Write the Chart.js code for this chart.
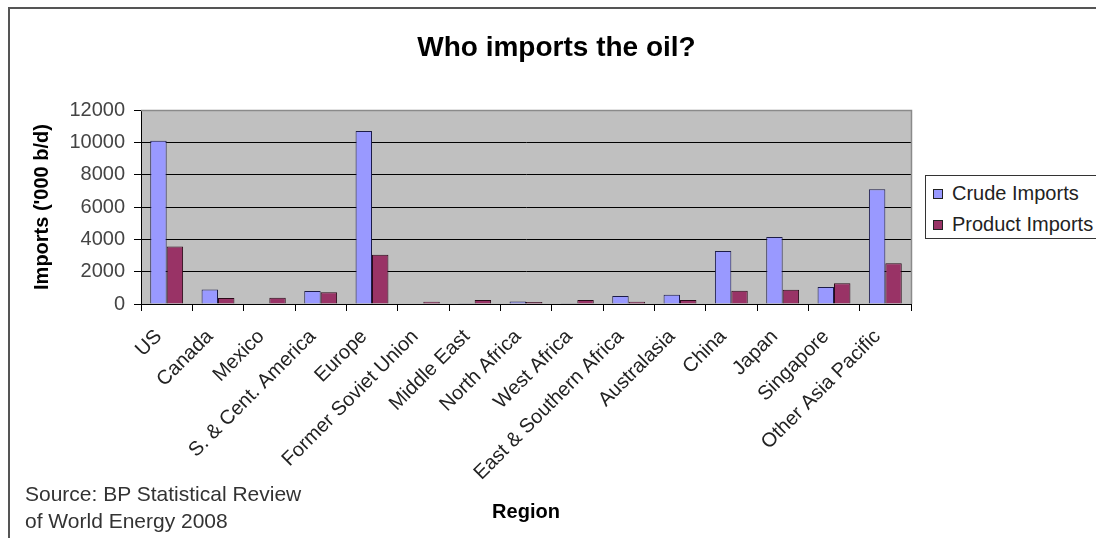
<!DOCTYPE html>
<html>
<head>
<meta charset="utf-8">
<title>Who imports the oil?</title>
<script src="https://cdn.jsdelivr.net/npm/chart.js@4.4.4/dist/chart.umd.min.js"></script>
<style>
    html, body {
        margin: 0;
        padding: 0;
        background: #fff;
        overflow: hidden;
    }

    #wrap {
        position: relative;
        width: 1096px;
        height: 538px;
        overflow: hidden;
        font-family: Arial, "Liberation Sans", sans-serif;
    }

    #frame {
        position: absolute;
        left: 8px;
        top: 7px;
        width: 1200px;
        height: 700px;
        border: 2px solid #555;
    }

    #chart {
        position: absolute;
        left: 0;
        top: 0;
    }

    #title {
        position: absolute;
        left: 0;
        width: 1113px;
        top: 33px;
        text-align: center;
        font-size: 28px;
        line-height: 28px;
        font-weight: bold;
        color: #000;
    }

    #source {
        position: absolute;
        left: 25px;
        top: 480px;
        font-size: 21px;
        line-height: 27px;
        color: #333;
    }

    #legend {
        position: absolute;
        left: 925px;
        top: 175px;
        width: 220px;
        height: 62px;
        border: 1px solid #333;
        background: #fff;
    }

    .item {
        position: absolute;
        left: 7px;
        height: 24px;
        line-height: 24px;
        font-size: 20px;
        color: #222;
        white-space: nowrap;
    }

    .swatch {
        display: inline-block;
        width: 8px;
        height: 8px;
        border: 1px solid #222;
        margin-right: 9px;
        vertical-align: 1px;
    }
</style>
</head>
<body>
<div id="wrap">
    <div id="frame"></div>
    <canvas id="chart" width="1096" height="538"></canvas>
    <div id="title">Who imports the oil?</div>
    <div id="legend"></div>
    <div id="source">Source: BP Statistical Review<br>of World Energy 2008</div>
</div>
<script>
const regions = [
    "US", "Canada", "Mexico", "S. & Cent. America", "Europe",
    "Former Soviet Union", "Middle East", "North Africa", "West Africa",
    "East & Southern Africa", "Australasia", "China", "Japan",
    "Singapore", "Other Asia Pacific"
];
const crudeImports = [10100, 900, 0, 800, 10700, 0, 20, 150, 20, 490, 570, 3280, 4140, 1050, 7100];
const productImports = [3550, 370, 380, 720, 3040, 140, 250, 130, 250, 140, 250, 820, 880, 1290, 2520];
const yTicks = [0, 2000, 4000, 6000, 8000, 10000, 12000];

const seriesNames = ["Crude Imports", "Product Imports"];
const seriesColors = ["#9999ff", "#993366"];

const fontFamily = "Arial, 'Liberation Sans', sans-serif";

const plotBackground = {
    id: "plotBackground",
    beforeDraw(chart) {
        const { ctx, chartArea: a } = chart;
        ctx.save();
        ctx.fillStyle = "#c0c0c0";
        ctx.fillRect(a.left, a.top, a.right - a.left, a.bottom - a.top);
        ctx.restore();
    },
    afterDraw(chart) {
        const { ctx, chartArea: a } = chart;
        ctx.save();
        ctx.strokeStyle = "#8a8a8a";
        ctx.lineWidth = 1.5;
        ctx.beginPath();
        ctx.moveTo(a.left, a.top + 0.5);
        ctx.lineTo(a.right + 0.5, a.top + 0.5);
        ctx.lineTo(a.right + 0.5, a.bottom);
        ctx.stroke();
        ctx.restore();
    }
};

// legend as plain html
const legendBox = document.getElementById("legend");
seriesNames.forEach((name, i) => {
    const row = document.createElement("div");
    row.className = "item";
    row.style.top = (i === 0 ? 5 : 36) + "px";
    const sw = document.createElement("span");
    sw.className = "swatch";
    sw.style.background = seriesColors[i];
    row.appendChild(sw);
    row.appendChild(document.createTextNode(name));
    legendBox.appendChild(row);
});

new Chart(document.getElementById("chart"), {
    type: "bar",
    data: {
        labels: regions,
        datasets: [
            {
                label: seriesNames[0],
                data: crudeImports,
                backgroundColor: seriesColors[0],
                borderColor: "#1c1c48",
                borderWidth: 1,
                barPercentage: 1,
                categoryPercentage: 0.64
            },
            {
                label: seriesNames[1],
                data: productImports,
                backgroundColor: seriesColors[1],
                borderColor: "#2a0a18",
                borderWidth: 1,
                barPercentage: 1,
                categoryPercentage: 0.64
            }
        ]
    },
    options: {
        responsive: false,
        animation: false,
        layout: {
            padding: { left: 9, top: 110, right: 185, bottom: 0 }
        },
        plugins: {
            legend: { display: false },
            title: { display: false },
            tooltip: { enabled: false }
        },
        scales: {
            x: {
                grid: {
                    offset: true,
                    drawOnChartArea: false,
                    color: "#000",
                    tickLength: 7
                },
                border: { color: "#000", width: 1 },
                ticks: {
                    autoSkip: false,
                    minRotation: 45,
                    maxRotation: 45,
                    padding: 14,
                    labelOffset: -8,
                    color: "#222",
                    font: { family: fontFamily, size: 20 }
                },
                title: {
                    display: true,
                    text: "Region",
                    color: "#000",
                    font: { family: fontFamily, size: 20, weight: "bold" },
                    padding: { top: 0, bottom: 14 }
                },
                afterFit(scale) {
                    scale.height = 234;
                }
            },
            y: {
                min: 0,
                max: 12000,
                afterBuildTicks(scale) {
                    scale.ticks = yTicks.map(v => ({ value: v }));
                },
                grid: {
                    color(ctx) {
                        return ctx.tick && ctx.tick.value === 12000 ? "#8a8a8a" : "#000";
                    },
                    tickColor: "#000",
                    tickLength: 7,
                    lineWidth: 1
                },
                border: { color: "#000", width: 1 },
                ticks: {
                    padding: 9,
                    color: "#444",
                    font: { family: fontFamily, size: 20 },
                    callback(value) {
                        return String(value);
                    }
                },
                title: {
                    display: true,
                    text: "Imports ('000 b/d)",
                    color: "#000",
                    font: { family: fontFamily, size: 20, weight: "bold" },
                    padding: { top: 21, bottom: 0 }
                },
                afterFit(scale) {
                    scale.width = 132;
                }
            }
        }
    },
    plugins: [plotBackground]
});
</script>
</body>
</html>
